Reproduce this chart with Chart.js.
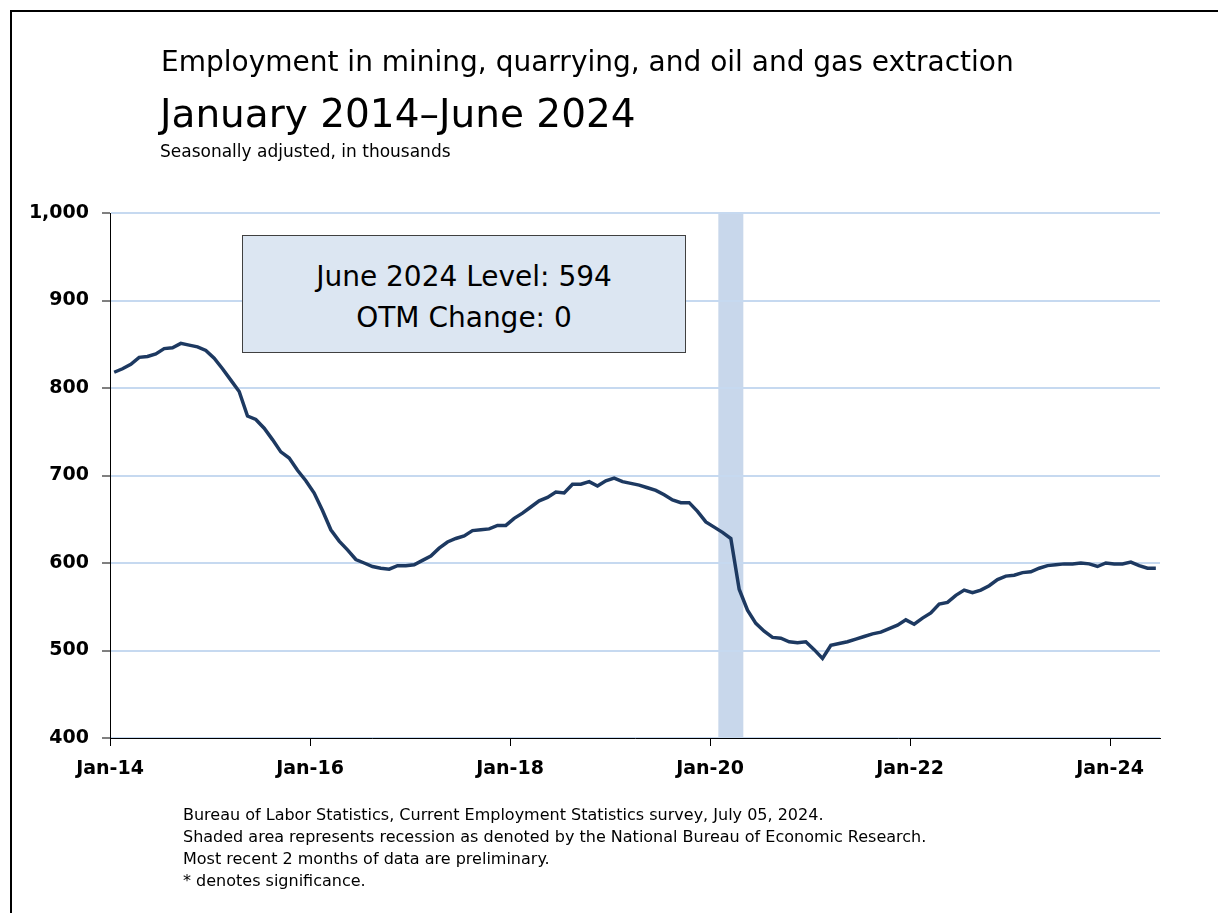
<!DOCTYPE html>
<html lang="en">
<head>
<meta charset="utf-8">
<script src="https://cdn.jsdelivr.net/npm/chart.js@4.4.1/dist/chart.umd.min.js"></script>
<style>
  body { margin: 0; background: #fff; font-family: "DejaVu Sans", sans-serif; color: #000; }
  #wrap { position: relative; width: 1218px; height: 913px; overflow: hidden; }
  #frame { position: absolute; left: 10px; top: 10px; width: 1400px; height: 1100px; border: 2px solid #000; }
  #chart { position: absolute; left: 0; top: 0; }
  .txt { position: absolute; line-height: 1; white-space: nowrap; }
  #title1 { left: 161px; top: 48px; font-size: 28px; }
  #title2 { left: 160px; top: 94px; font-size: 39px; }
  #subtitle { left: 160px; top: 143px; font-size: 17px; }
  /* annotation box */
  #note { position: absolute; left: 242px; top: 235px; width: 442px; background: #dce6f2; border: 1px solid #404040; text-align: center; font-size: 28px; line-height: 41px; padding-top: 20px; height: 96px; }
  #source { left: 183px; top: 804px; font-size: 16px; line-height: 22px; }
</style>
</head>
<body>
<div id="wrap">
  <div id="frame"></div>
  <canvas id="chart" width="1218" height="913"></canvas>
  <div class="txt" id="title1">Employment in mining, quarrying, and oil and gas extraction</div>
  <div class="txt" id="title2">January 2014–June 2024</div>
  <div class="txt" id="subtitle">Seasonally adjusted, in thousands</div>
  <div id="note">June 2024 Level: 594<br>OTM Change: 0</div>
  <div class="txt" id="source">Bureau of Labor Statistics, Current Employment Statistics survey, July 05, 2024.<br>Shaded area represents recession as denoted by the National Bureau of Economic Research.<br>Most recent 2 months of data are preliminary.<br>* denotes significance.</div>
</div>
<script>
  // monthly values, Jan 2014 - Jun 2024 (thousands)
  const employment = [
    818, 822, 827, 835, 836, 839, 845, 846, 851, 849, 847, 843, // 2014
    834, 822, 809, 796, 768, 764, 754, 741, 727, 720, 706, 694, // 2015
    680, 660, 638, 625, 615, 604, 600, 596, 594, 593, 597, 597, // 2016
    598, 603, 608, 617, 624, 628, 631, 637, 638, 639, 643, 643, // 2017
    651, 657, 664, 671, 675, 681, 680, 690, 690, 693, 688, 694, // 2018
    697, 693, 691, 689, 686, 683, 678, 672, 669, 669, 659, 647, // 2019
    641, 635, 628, 570, 546, 531, 522, 515, 514, 510, 509, 510, // 2020
    501, 491, 506, 508, 510, 513, 516, 519, 521, 525, 529, 535, // 2021
    530, 537, 543, 553, 555, 563, 569, 566, 569, 574, 581, 585, // 2022
    586, 589, 590, 594, 597, 598, 599, 599, 600, 599, 596, 600, // 2023
    599, 599, 601, 597, 594, 594                                // 2024
  ];

  // x axis: months since Jan 2014
  const tickMonths = [0, 24, 48, 72, 96, 120];
  const tickLabels = ['Jan-14', 'Jan-16', 'Jan-18', 'Jan-20', 'Jan-22', 'Jan-24'];
  const yTicks = [400, 500, 600, 700, 800, 900, 1000];

  // recession Feb 2020 - Apr 2020 (month index range)
  const recessionStart = 73;
  const recessionEnd = 76;

  // each point sits in the middle of its month
  const points = employment.map((v, i) => ({ x: i + 0.5, y: v }));

  const recessionBand = {
    id: 'recessionBand',
    beforeDraw(chart) {
      const { ctx, chartArea, scales } = chart;
      const x1 = scales.x.getPixelForValue(recessionStart);
      const x2 = scales.x.getPixelForValue(recessionEnd);
      ctx.save();
      ctx.fillStyle = '#c8d7eb';
      ctx.fillRect(x1, chartArea.top, x2 - x1, chartArea.bottom - chartArea.top);
      ctx.restore();
    }
  };

  const tickFont = { family: 'DejaVu Sans', size: 19, weight: 'bold' };

  new Chart(document.getElementById('chart'), {
    type: 'line',
    data: {
      datasets: [{
        label: 'Employment',
        data: points,
        borderColor: '#1d3961',
        borderWidth: 3.5,
        pointRadius: 0,
        tension: 0,
        fill: false
      }]
    },
    options: {
      responsive: false,
      animation: false,
      devicePixelRatio: 1,
      layout: { padding: { left: 0, top: 213, right: 58, bottom: 115 } },
      plugins: {
        legend: { display: false },
        tooltip: { enabled: false }
      },
      scales: {
        x: {
          type: 'linear',
          min: 0,
          max: 126,
          afterBuildTicks: (scale) => { scale.ticks = tickMonths.map(v => ({ value: v })); },
          afterFit: (scale) => { scale.height = 60; },
          ticks: {
            autoSkip: false,
            maxRotation: 0,
            padding: 12,
            color: '#000',
            font: tickFont,
            callback: (v) => tickLabels[tickMonths.indexOf(v)]
          },
          grid: { drawOnChartArea: false, drawTicks: true, tickLength: 8, tickColor: '#000' },
          border: { color: '#000', width: 1 }
        },
        y: {
          min: 400,
          max: 1000,
          afterBuildTicks: (scale) => { scale.ticks = yTicks.map(v => ({ value: v })); },
          afterFit: (scale) => { scale.width = 110; },
          ticks: {
            padding: 13,
            color: '#000',
            font: tickFont,
            callback: (v) => v.toLocaleString('en-US')
          },
          grid: { color: '#c6d9f0', lineWidth: 2, tickLength: 8, tickColor: '#000', tickWidth: 1 },
          border: { color: '#000', width: 1 }
        }
      }
    },
    plugins: [recessionBand]
  });
</script>
</body>
</html>
